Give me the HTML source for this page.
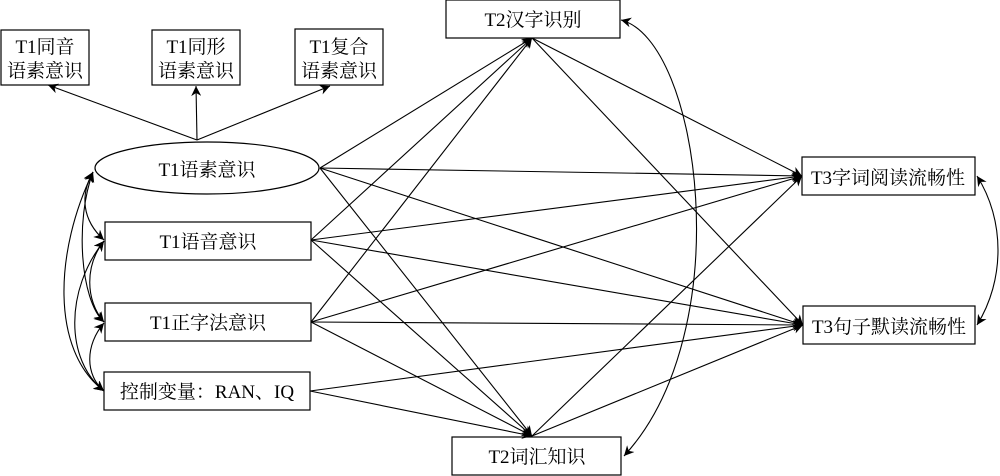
<!DOCTYPE html>
<html><head><meta charset="utf-8"><style>
body{margin:0;background:#fff;}
svg{display:block;}
text{font-family:"Liberation Serif","Noto Serif CJK SC",serif;font-size:19px;fill:#000;}
</style></head><body>
<svg width="1000" height="476" viewBox="0 0 1000 476" xmlns="http://www.w3.org/2000/svg">
<defs>
<marker id="a" viewBox="0 0 10 10" refX="10" refY="5" markerWidth="13" markerHeight="10" markerUnits="userSpaceOnUse" orient="auto-start-reverse">
<path d="M0,0 L10,5 L0,10 L3,5 z" fill="#000"/></marker>
</defs>
<g fill="#fff" stroke="#000" stroke-width="1.2">
<rect x="1" y="30" width="88" height="55"/>
<rect x="152" y="30" width="88" height="55"/>
<rect x="295" y="29" width="88" height="56"/>
<ellipse cx="207" cy="168" rx="112" ry="26"/>
<rect x="105" y="222" width="206" height="38"/>
<rect x="105" y="303" width="206" height="38"/>
<rect x="104" y="372" width="206" height="38"/>
<rect x="446" y="0" width="174" height="38"/>
<rect x="452" y="437" width="169" height="38"/>
<rect x="802" y="157" width="173" height="38"/>
<rect x="803" y="306" width="172" height="38"/>
</g>
<g stroke="#000" stroke-width="1.1" fill="none" marker-end="url(#a)">
<line x1="197" y1="140" x2="48" y2="85"/>
<line x1="197" y1="140" x2="196" y2="86"/>
<line x1="197" y1="140" x2="330" y2="86"/>
<line x1="320" y1="168" x2="532" y2="38"/>
<line x1="320" y1="168" x2="532" y2="436"/>
<line x1="320" y1="168" x2="802" y2="176"/>
<line x1="320" y1="168" x2="803" y2="325"/>
<line x1="311" y1="240" x2="532" y2="38"/>
<line x1="311" y1="240" x2="532" y2="436"/>
<line x1="311" y1="240" x2="802" y2="176"/>
<line x1="311" y1="240" x2="803" y2="325"/>
<line x1="311" y1="322" x2="532" y2="38"/>
<line x1="311" y1="322" x2="532" y2="436"/>
<line x1="311" y1="322" x2="802" y2="176"/>
<line x1="311" y1="322" x2="803" y2="325"/>
<line x1="310" y1="391" x2="532" y2="436"/>
<line x1="310" y1="391" x2="803" y2="325"/>
<line x1="532" y1="38" x2="802" y2="176"/>
<line x1="532" y1="38" x2="803" y2="325"/>
<line x1="532" y1="436" x2="802" y2="176"/>
<line x1="532" y1="436" x2="803" y2="325"/>
<path d="M624,456 C740,330 700,40 621,20" marker-start="url(#a)"/>
<path d="M977,325 C1005,280 1005,220 977,176" marker-start="url(#a)"/>
<path d="M104,240 C82,220 80,195 93,172" marker-start="url(#a)"/>
<path d="M104,322 C80,300 75,220 93,172" marker-start="url(#a)"/>
<path d="M104,391 C50,350 55,250 93,172" marker-start="url(#a)"/>
<path d="M104,322 C85,300 85,265 104,241" marker-start="url(#a)"/>
<path d="M104,391 C65,360 65,290 104,241" marker-start="url(#a)"/>
<path d="M104,391 C85,375 85,345 104,323" marker-start="url(#a)"/>
</g>
<g text-anchor="middle">
<text x="45" y="53">T1同音</text><text x="45" y="77">语素意识</text>
<text x="196" y="53">T1同形</text><text x="196" y="77">语素意识</text>
<text x="339" y="53">T1复合</text><text x="339" y="77">语素意识</text>
<text x="207" y="176">T1语素意识</text>
<text x="208" y="248">T1语音意识</text>
<text x="208" y="329">T1正字法意识</text>
<text x="207" y="398">控制变量：RAN、IQ</text>
<text x="533" y="26">T2汉字识别</text>
<text x="537" y="463">T2词汇知识</text>
<text x="888" y="184">T3字词阅读流畅性</text>
<text x="889" y="333">T3句子默读流畅性</text>
</g>
</svg>
</body></html>
